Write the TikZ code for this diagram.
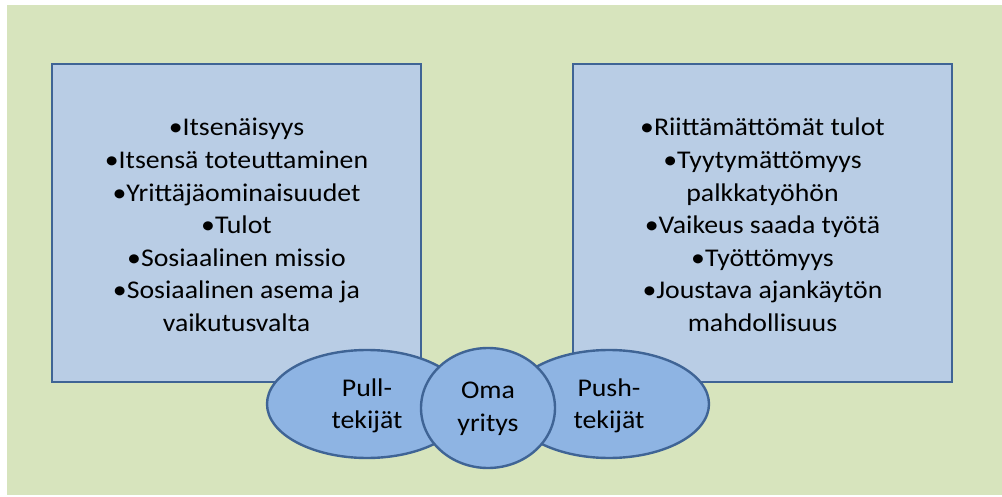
\documentclass[tikz,border=0pt]{standalone}
\usepackage{fontspec}
\setmainfont{Carlito}[FakeStretch=1.09]
\definecolor{bggreen}{HTML}{D7E4BD}
\definecolor{boxfill}{HTML}{B9CDE5}
\definecolor{edge}{HTML}{3F6495}
\definecolor{ellfill}{HTML}{8EB4E3}
\begin{document}
\begin{tikzpicture}[x=1pt,y=-1pt,
  panel/.style={draw=edge,line width=2.6pt,fill=boxfill},
  bubble/.style={draw=edge,line width=2.4pt,fill=ellfill},
  txt/.style={align=center,font=\fontsize{25.5}{32.6}\selectfont,text=black,inner sep=0pt}]
\useasboundingbox (0,0) rectangle (1002,497);
\fill[white] (0,0) rectangle (1002,497);
\fill[bggreen] (7,5) rectangle (1002,495);
\draw[panel] (52,64) rectangle (421,382);
\draw[panel] (573,64) rectangle (952,382);
\node[txt] (pulltext) at (236.5,225) {•Itsenäisyys\\•Itsensä toteuttaminen\\•Yrittäjäominaisuudet\\•Tulot\\•Sosiaalinen missio\\•Sosiaalinen asema ja\\vaikutusvalta};
\node[txt] (pushtext) at (762.5,225) {•Riittämättömät tulot\\•Tyytymättömyys\\palkkatyöhön\\•Vaikeus saada työtä\\•Työttömyys\\•Joustava ajankäytön\\mahdollisuus};
\draw[bubble] (367,404) ellipse [x radius=100,y radius=54];
\draw[bubble] (609,404) ellipse [x radius=100,y radius=54];
\draw[bubble] (488,408) ellipse [x radius=67,y radius=60];
\node[txt] (pull) at (367,406) {Pull-\\tekijät};
\node[txt] (own) at (488,409) {Oma\\yritys};
\node[txt] (push) at (609,406) {Push-\\tekijät};
\end{tikzpicture}
\end{document}
